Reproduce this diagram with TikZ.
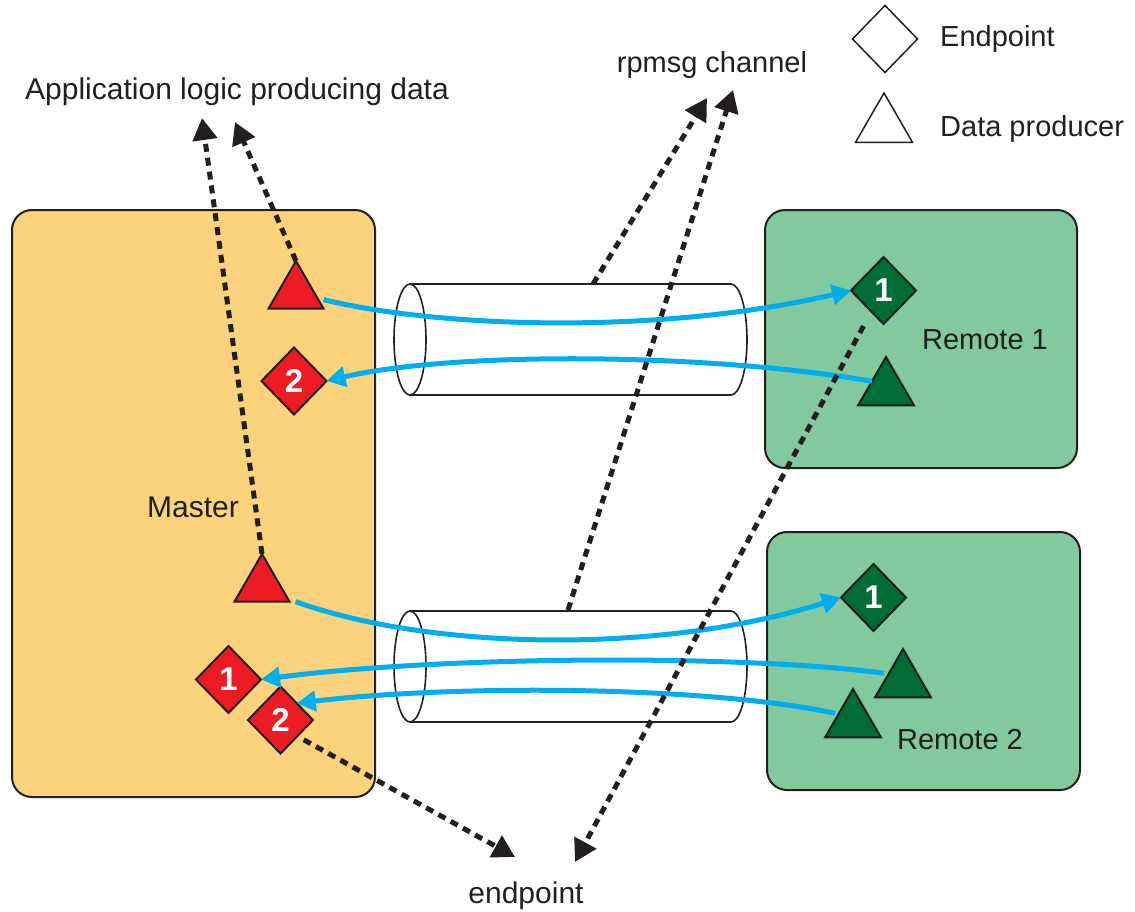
\documentclass[tikz,border=0pt]{standalone}
\usepackage{fontspec}
\setmainfont{Liberation Sans}
\usetikzlibrary{shapes.geometric,arrows.meta,calc}
\definecolor{masterfill}{RGB}{252,210,125}
\definecolor{remotefill}{RGB}{130,202,157}
\definecolor{dkgreen}{RGB}{0,110,52}
\definecolor{epred}{RGB}{237,28,36}
\definecolor{flowblue}{RGB}{0,174,239}
\definecolor{ink}{RGB}{35,31,32}
\tikzset{
  box/.style={draw=ink, line width=2pt, rounded corners=20pt},
  lbl/.style={font=\fontsize{30}{36}\selectfont, text=ink, inner sep=0pt},
  lblsm/.style={font=\fontsize{29}{35}\selectfont, text=ink, inner sep=0pt},
  epbox/.style={diamond, draw=ink, line width=2pt, minimum width=65pt, minimum height=67pt, inner sep=0pt, outer sep=0pt, text=white, font=\bfseries\fontsize{33}{38}\selectfont},
  prodtri/.style={regular polygon, regular polygon sides=3, draw=ink, line width=2pt, minimum size=63.5pt, inner sep=0pt, outer sep=0pt},
  flow/.style={draw=flowblue, line width=5pt, -{Triangle[length=19pt,width=20pt]}},
  ptr/.style={draw=ink, line width=5pt, dash pattern=on 8pt off 6pt, -{Triangle[length=22pt,width=24pt]}},
  pipe/.style={draw=ink, line width=1.6pt, fill=white}
}
\begin{document}
\begin{tikzpicture}[x=1pt,y=-1pt]
\useasboundingbox (0,0) rectangle (1135,911);
% boxes
\path[box, fill=masterfill] (12,210) rectangle (375,797);
\path[box, fill=remotefill] (765,210) rectangle (1077,468);
\path[box, fill=remotefill] (767,532) rectangle (1080,790);
% pipes
\path[pipe] (410,284) -- (731,284) arc[start angle=-90, end angle=90, x radius=16, y radius=55.5] -- (410,395) -- cycle;
\draw[pipe] (410,339.5) ellipse[x radius=16, y radius=55.5];
\path[pipe] (410,611) -- (731,611) arc[start angle=-90, end angle=90, x radius=16, y radius=55.5] -- (410,722) -- cycle;
\draw[pipe] (410,666.5) ellipse[x radius=16, y radius=55.5];
\coordinate (p1top) at (593,284);
\coordinate (p2top) at (568,610);
% labels
\node[lbl, anchor=base west] (applbl) at (25,99) {Application logic producing data};
\node[lblsm, anchor=base] (chlbl) at (712,72) {rpmsg channel};
\node[lbl, anchor=base] (eplbl) at (526,903) {endpoint};
\node[lbl, anchor=base] (mlbl) at (193,517) {Master};
\node[lblsm, anchor=base] (r1lbl) at (985,349) {Remote 1};
\node[lblsm, anchor=base] (r2lbl) at (960,749) {Remote 2};
\node[lblsm, anchor=base west] (leglbla) at (940,46) {Endpoint};
\node[lblsm, anchor=base west] (leglblb) at (940,136) {Data producer};
% legend
\node[epbox, fill=white, line width=1.5pt] (legd) at (885,39) {};
\node[prodtri, fill=white, line width=1.5pt, minimum size=65.8pt] (legt) at (884,125.9) {};
% master
\node[prodtri, fill=epred] (tm) at (296,292.75) {};
\node[prodtri, fill=epred] (tl) at (262,585.75) {};
\node[epbox, fill=epred] (dm2a) at (294,381) {2};
\node[epbox, fill=epred] (dm1) at (228.5,679.5) {1};
\node[epbox, fill=epred] (dm2) at (280.5,720) {2};
% remotes
\node[epbox, fill=dkgreen] (dr1) at (883.5,290.5) {1};
\node[prodtri, fill=dkgreen, minimum size=64.6pt] (tr1) at (886,389.3) {};
\node[epbox, fill=dkgreen] (dr2) at (873.5,597.5) {1};
\node[prodtri, fill=dkgreen, minimum size=64.6pt] (tu) at (903,681.3) {};
\node[prodtri, fill=dkgreen, minimum size=64.6pt] (tb) at (853,721.3) {};
% blue flows
\draw[flow] ($(tm.corner 3)+(0,-9)$) .. controls (440,328) and (660,335) .. (dr1.west);
\draw[flow] ($(tr1.corner 2)!0.5!(tr1.corner 1)$) .. controls (700,352) and (450,352) .. (dm2a.east);
\draw[flow] ($(tl.corner 3)+(6,0)$) .. controls (430,650) and (660,655) .. (dr2.west);
\draw[flow] ($(tu.corner 2)!0.5!(tu.corner 1)+(-5,0)$) .. controls (750,655) and (450,655) .. (dm1.east);
\draw[flow] ($(tb.corner 2)!0.5!(tb.corner 1)+(-4,0)$) .. controls (700,685) and (450,685) .. (dm2.north east);
% dashed pointers
\coordinate (ta) at (202,118);
\coordinate (tbb) at (235,122);
\coordinate (tc) at (707,98);
\coordinate (td) at (733,90);
\coordinate (te) at (575,862);
\coordinate (tf) at (515,857);
\draw[ptr] (tl.corner 1) -- (ta);
\draw[ptr] (tm.corner 1) -- (tbb);
\draw[ptr] (p1top) -- (tc);
\draw[ptr] (p2top) -- (td);
\draw[ptr] ($(dr1.south)+(-20,2)$) -- (te);
\draw[ptr] ($(dm2.south east)+(7,3)$) -- (tf);
\end{tikzpicture}
\end{document}
